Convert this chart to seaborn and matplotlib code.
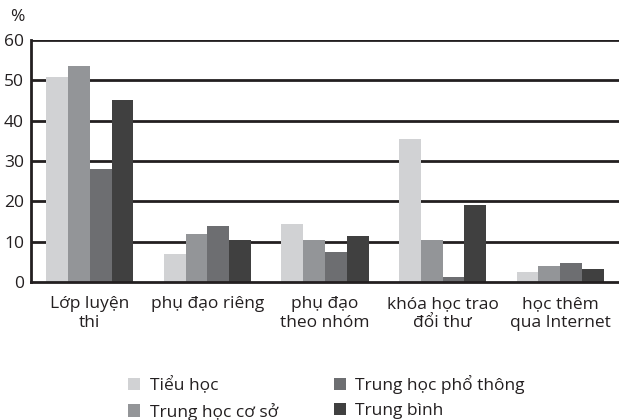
import matplotlib
matplotlib.use("Agg")
import matplotlib.pyplot as plt
import seaborn as sns
import pandas as pd

# dữ liệu
categories = ["Lớp luyện\nthi", "phụ đạo riêng", "phụ đạo\ntheo nhóm",
              "khóa học trao\nđổi thư", "học thêm\nqua Internet"]
levels = ["Tiểu học", "Trung học cơ sở", "Trung học phổ thông", "Trung bình"]
tieu_hoc = [50.9, 7.0, 14.4, 35.5, 2.5]
thcs = [53.6, 11.9, 10.4, 10.4, 4.0]
thpt = [28.0, 13.9, 7.4, 1.2, 4.7]
trung_binh = [45.2, 10.4, 11.4, 19.1, 3.2]
colors = ["#d1d2d4", "#939598", "#6d6e71", "#404040"]

series = [tieu_hoc, thcs, thpt, trung_binh]
df = pd.DataFrame([
    {"cat": c, "level": lv, "value": v}
    for lv, vals in zip(levels, series)
    for c, v in zip(categories, vals)
])

sns.set_style("white")
plt.rcParams["font.family"] = ["Open Sans", "DejaVu Sans"]
FS = 12.5

fig = plt.figure(figsize=(6.19, 4.2), dpi=100)
ax = fig.add_axes([31 / 619, 1 - 282 / 420, 588 / 619, 242 / 420])

sns.barplot(data=df, x="cat", y="value", hue="level", hue_order=levels,
            order=categories, palette=colors, width=0.74, gap=0,
            saturation=1, edgecolor="none", ax=ax, legend=True, zorder=3)

ax.set_ylim(0, 60)
ax.set_xlim(-0.5, 4.5)
ax.set_yticks(range(0, 61, 10))
for y in range(10, 61, 10):
    ax.axhline(y, color="#231f20", lw=2, zorder=1)
ax.set_xlabel("")
ax.set_ylabel("")
for s in ["top", "right"]:
    ax.spines[s].set_visible(False)
for s in ["left", "bottom"]:
    ax.spines[s].set_color("#231f20")
    ax.spines[s].set_linewidth(2)
    ax.spines[s].set_zorder(4)
ax.tick_params(axis="both", length=0, labelsize=FS, colors="#231f20")
ax.tick_params(axis="x", pad=10)
ax.tick_params(axis="y", pad=5)
for lab in ax.get_xticklabels():
    lab.set_linespacing(1.3)
fig.text(17 / 619, 1 - 17 / 420, "%", fontsize=FS, color="#231f20",
         ha="center", va="center")

handles, labels = ax.get_legend_handles_labels()
ax.legend(handles, labels, ncol=2, loc="upper left",
          bbox_to_anchor=(128 / 619, 1 - 375 / 420), bbox_transform=fig.transFigure,
          frameon=False, fontsize=FS, handlelength=0.7, handleheight=0.7,
          handletextpad=0.55, columnspacing=3.2, labelspacing=0.5,
          borderpad=0, borderaxespad=0, labelcolor="#231f20")

fig.savefig("out.png", dpi=100)
